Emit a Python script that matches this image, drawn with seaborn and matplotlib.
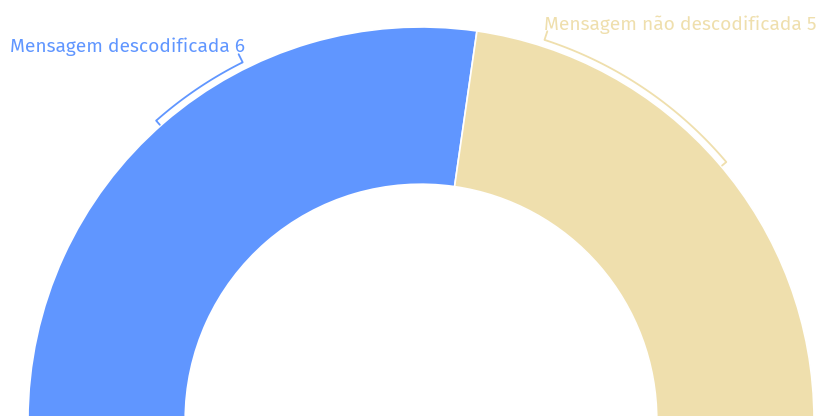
import numpy as np
import matplotlib.pyplot as plt
import seaborn as sns

# half donut: decoded vs not decoded messages
labels = ['Mensagem descodificada', 'Mensagem não descodificada']
values = [6, 5]
colors = ['#6096ff', '#efdfad']

sns.set_theme(style='white')
plt.rcParams['font.family'] = ['Fira Sans', 'Open Sans', 'DejaVu Sans']

fig = plt.figure(figsize=(8.16, 4.16), dpi=100)
ax = fig.add_axes([0, 0, 1, 1])

total = sum(values)
# the invisible wedge takes the lower half of the circle
wedges, _ = ax.pie(values + [total], colors=colors + ['none'], startangle=180,
                   counterclock=False, radius=1.0,
                   wedgeprops=dict(width=0.4, edgecolor='white', linewidth=1.2))
wedges[-1].set_edgecolor('none')

R = 393.0   # px per unit radius
cy = 420.0  # centre row in pixels (just below the figure)
ax.set_aspect('auto')
ax.set_xlim(-421 / R, 395 / R)
ax.set_ylim((cy - 416) / R, cy / R)
ax.axis('off')

# bracket leaders following the outer edge
def bracket(a0, a1, col, r=1.017):
    t = np.radians(np.linspace(a0, a1, 60))
    ax.plot(r * np.cos(t), r * np.sin(t), color=col, lw=1.3, solid_capstyle='butt')
    # inner tick at the far end
    tf = np.radians(a1)
    ax.plot([r * np.cos(tf), 1.003 * np.cos(tf)], [r * np.sin(tf), 1.003 * np.sin(tf)],
            color=col, lw=1.3)
    # outer tick toward the label
    tn = np.radians(a0)
    ax.plot([r * np.cos(tn), 1.04 * np.cos(tn)], [r * np.sin(tn), 1.04 * np.sin(tn)],
            color=col, lw=1.3)

bracket(116.5, 131.5, colors[0])
bracket(72.0, 40.2, colors[1])

ax.text(-1.046, (cy - 47) / R, f'{labels[0]} {values[0]}', color=colors[0], fontsize=13.8,
        ha='left', va='center')
ax.text(0.312, (cy - 25) / R, f'{labels[1]} {values[1]}', color=colors[1], fontsize=13.8,
        ha='left', va='center')

fig.savefig('out.png', dpi=100)
